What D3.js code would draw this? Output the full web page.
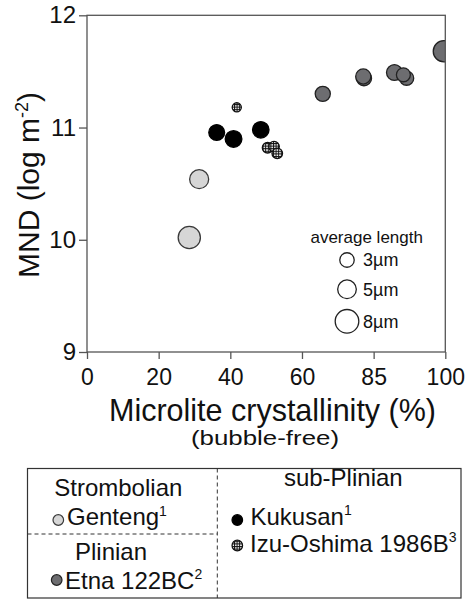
<!DOCTYPE html>
<html>
<head>
<meta charset="utf-8">
<script src="https://cdn.jsdelivr.net/npm/d3@7"></script>
<style>
  html, body { margin: 0; padding: 0; background: #fff; }
  svg { display: block; }
</style>
</head>
<body>
<svg id="chart" width="467" height="601"></svg>
<script>
// ---- data ----
const xTickValues = [0, 20, 40, 60, 80, 100];
const xTickLabels = ["0", "20", "40", "60", "85", "100"];
const yTickValues = [9, 10, 11, 12];

// [crystallinity %, MND log m^-2, average length µm]
const genteng = [[28.55, 10.02, 7.1], [31.3, 10.54, 5.2]];
const kukusan = [[36.2, 10.956, 3.6], [40.9, 10.898, 4.0], [48.5, 10.98, 3.9]];
const izuOshima = [[41.8, 11.18, 1.2], [50.4, 10.82, 1.6], [52.2, 10.83, 1.6], [53.1, 10.77, 1.6]];
const etna = [[65.8, 11.30, 3.3], [77.3, 11.44, 3.3], [77.1, 11.455, 3.3], [85.8, 11.49, 3.6],
              [89.2, 11.44, 2.9], [88.3, 11.47, 2.8], [99.6, 11.68, 6.5]];
const sizeLegend = [3, 5, 8];

// ---- setup ----
const svg = d3.select("#chart");
const pL = 87, pR = 445.3, pT = 15.3, pB = 352;
const x = d3.scaleLinear().domain([0, 100]).range([pL, pR]);
const y = d3.scaleLinear().domain([9, 12]).range([pB, pT]);
const r = d3.scaleSqrt().domain([0, 8]).range([0, 11.8]);

const defs = svg.append("defs");
const pat = defs.append("pattern").attr("id", "grid").attr("patternUnits", "userSpaceOnUse")
  .attr("width", 2.6).attr("height", 2.6);
pat.append("rect").attr("width", 2.6).attr("height", 2.6).attr("fill", "#fff");
pat.append("path").attr("d", "M0,0.5H2.6M0.5,0V2.6").attr("stroke", "#111").attr("stroke-width", 1);
defs.append("clipPath").attr("id", "plotclip").append("rect")
  .attr("x", pL).attr("y", pT).attr("width", pR - pL).attr("height", pB - pT);

const numFont = "Liberation Sans, Arial, sans-serif";
const lgFont = "Liberation Sans, Arial, sans-serif";

// ---- bubbles ----
const pg = svg.append("g").attr("clip-path", "url(#plotclip)");
function bubbles(data, fill, stroke) {
  pg.append("g").selectAll("circle").data(data).join("circle")
    .attr("cx", d => x(d[0])).attr("cy", d => y(d[1])).attr("r", d => r(d[2]))
    .attr("fill", fill).attr("stroke", stroke).attr("stroke-width", 1.3);
}
bubbles(genteng, "#d6d6d6", "#3a3a3a");
bubbles(etna, "#6d6d70", "#222");
bubbles(kukusan, "#000", "#000");
bubbles(izuOshima, "url(#grid)", "#111");

// ---- axes ----
const yAxis = svg.append("g").attr("transform", `translate(${pL},0)`)
  .call(d3.axisLeft(y).tickValues(yTickValues).tickSize(8).tickPadding(3).tickFormat(d3.format("d")));
yAxis.attr("font-family", null).attr("font-size", null);
yAxis.selectAll("text").style("font-family", numFont).style("font-size", "24px").attr("fill", "#111");
const xAxis = svg.append("g").attr("transform", `translate(0,${pB})`)
  .call(d3.axisBottom(x).tickValues(xTickValues).tickSize(7).tickFormat((d, i) => xTickLabels[i]));
xAxis.attr("font-family", null).attr("font-size", null);
xAxis.selectAll("text").style("font-family", numFont).style("font-size", "23px")
  .attr("fill", "#111").attr("y", 33).attr("dy", 0);
svg.selectAll(".domain").remove();
svg.selectAll(".tick line").attr("stroke", "#555").attr("stroke-width", 1.3);
svg.append("rect").attr("x", pL).attr("y", pT).attr("width", pR - pL).attr("height", pB - pT)
  .attr("fill", "none").attr("stroke", "#555").attr("stroke-width", 1.3);

// axis titles
svg.append("text").style("font-family", numFont).style("font-size", "30.5px").attr("fill", "#111")
  .attr("text-anchor", "middle").attr("x", 272.5).attr("y", 420.5).text("Microlite crystallinity (%)");
svg.append("text").style("font-family", numFont).style("font-size", "19.5px").attr("fill", "#111")
  .attr("text-anchor", "middle").attr("x", 265).attr("y", 445.3)
  .attr("textLength", 148).attr("lengthAdjust", "spacingAndGlyphs").text("(bubble-free)");

const yt = svg.append("text").style("font-family", numFont).style("font-size", "30px").attr("fill", "#111")
  .attr("text-anchor", "middle").attr("transform", "translate(38.5,185) rotate(-90)");
yt.append("tspan").text("MND (log m");
yt.append("tspan").style("font-size", "18px").attr("dy", -11).text("-2");
yt.append("tspan").attr("dy", 11).text(")");

// ---- size legend ----
const sl = svg.append("g").style("font-family", lgFont).attr("fill", "#111");
sl.append("text").attr("x", 366.7).attr("y", 242.7).attr("text-anchor", "middle").style("font-size", "17px")
  .text("average length");
const slY = [260, 289.3, 321.3];
sizeLegend.forEach((v, i) => {
  sl.append("circle").attr("cx", 347).attr("cy", slY[i]).attr("r", r(v))
    .attr("fill", "#fff").attr("stroke", "#222").attr("stroke-width", 1.3);
  sl.append("text").attr("x", 363).attr("y", slY[i]).attr("dy", "0.35em").style("font-size", "18px")
    .text(v + "µm");
});

// ---- bottom legend ----
const lg = svg.append("g").style("font-family", lgFont).attr("fill", "#111");
lg.append("rect").attr("x", 27.5).attr("y", 468.5).attr("width", 433.5).attr("height", 129.5)
  .attr("fill", "none").attr("stroke", "#333").attr("stroke-width", 1.2);
lg.append("line").attr("x1", 217.3).attr("x2", 217.3).attr("y1", 468.5).attr("y2", 598)
  .attr("stroke", "#333").attr("stroke-width", 1).attr("stroke-dasharray", "4,3");
lg.append("line").attr("x1", 27.5).attr("x2", 217.3).attr("y1", 534).attr("y2", 534)
  .attr("stroke", "#333").attr("stroke-width", 1).attr("stroke-dasharray", "4,3");

function head(txt, cx, by) {
  lg.append("text").attr("x", cx).attr("y", by).attr("text-anchor", "middle").style("font-size", "24px").text(txt);
}
head("Strombolian", 118.3, 496);
head("Plinian", 111, 560);
head("sub-Plinian", 343.3, 486);

function item(cx, cy, fill, stroke, tx, by, name, sup) {
  lg.append("circle").attr("cx", cx).attr("cy", cy).attr("r", 5.3)
    .attr("fill", fill).attr("stroke", stroke).attr("stroke-width", 1.2);
  const t = lg.append("text").attr("x", tx).attr("y", by).style("font-size", "24px");
  t.append("tspan").text(name);
  t.append("tspan").style("font-size", "14px").attr("dy", -9.5).text(sup);
}
item(58.3, 520, "#d6d6d6", "#3a3a3a", 67, 525, "Genteng", "1");
item(56.7, 580, "#6d6d70", "#222", 65, 588.5, "Etna 122BC", "2");
item(237.3, 520, "#000", "#000", 250.5, 524.5, "Kukusan", "1");
item(237.3, 545.5, "url(#grid)", "#111", 250, 551.5, "Izu-Oshima 1986B", "3");
</script>
</body>
</html>
